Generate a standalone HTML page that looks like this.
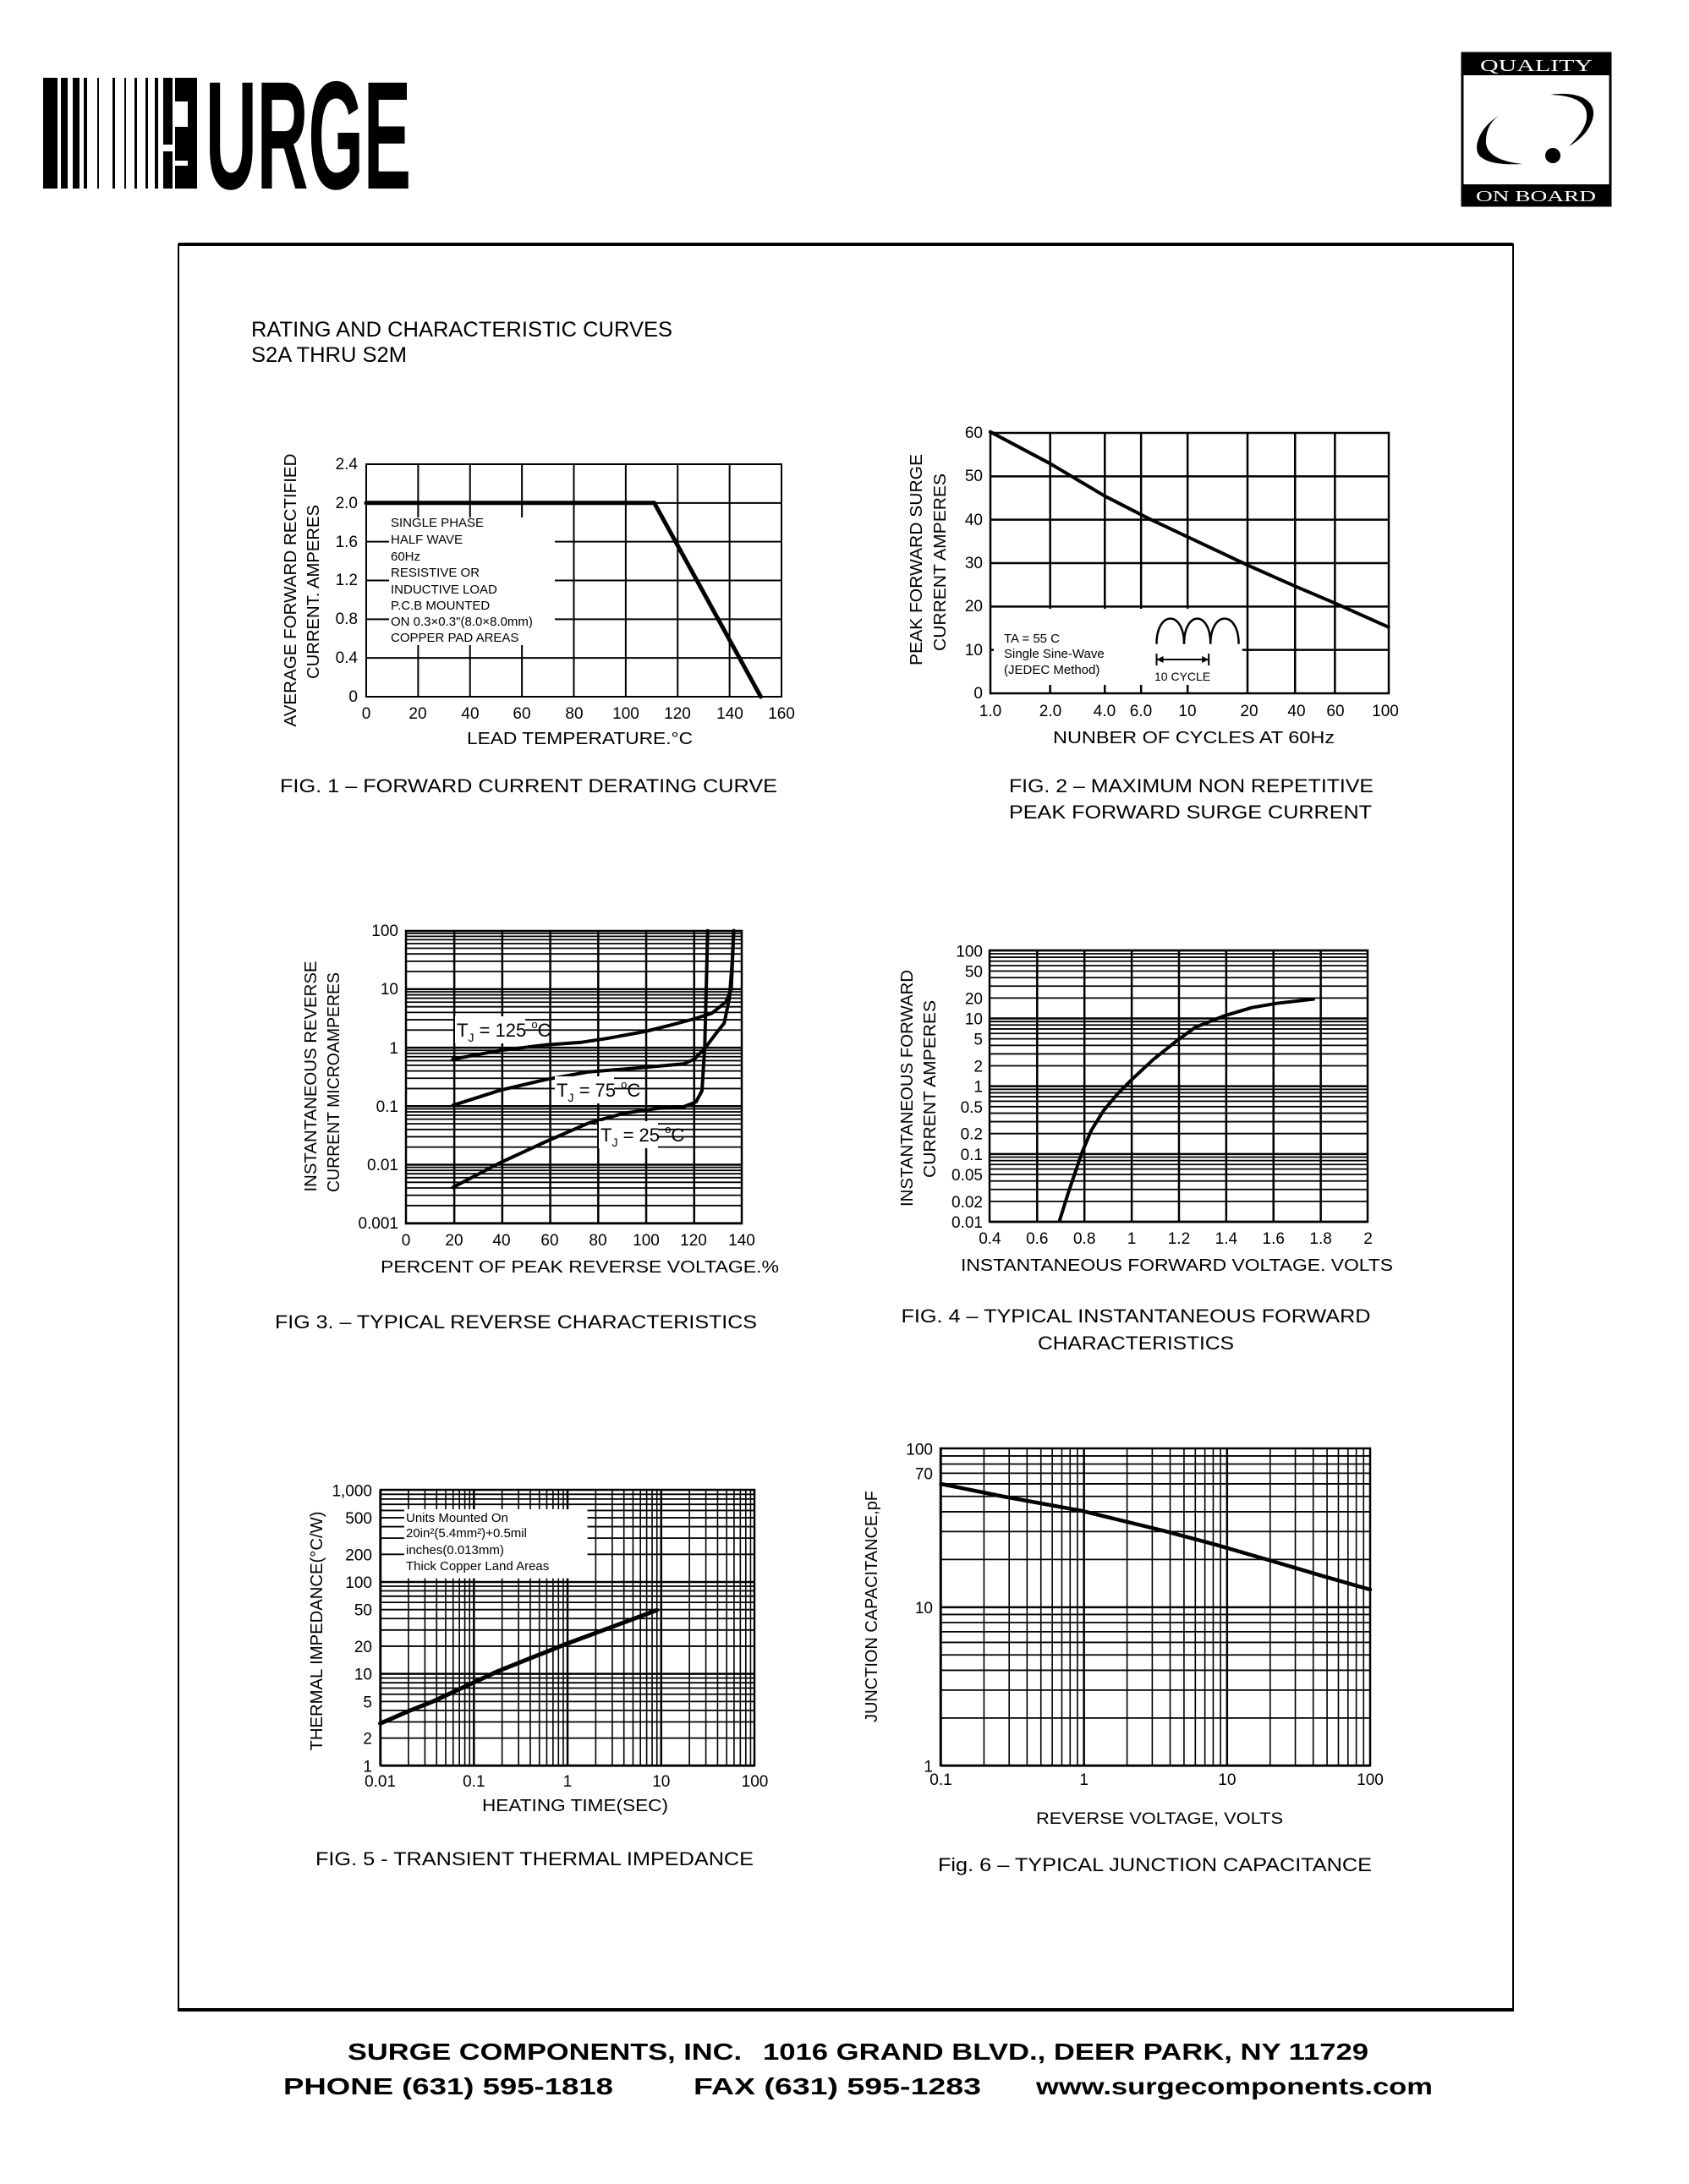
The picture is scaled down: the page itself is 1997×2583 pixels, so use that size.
<!DOCTYPE html>
<html><head><meta charset="utf-8"><style>
html,body{margin:0;padding:0;background:#fff}
svg{display:block}
text{font-family:"Liberation Sans",sans-serif;fill:#000}
</style></head><body>
<svg id="s" xmlns="http://www.w3.org/2000/svg" width="1997" height="2583" viewBox="0 0 1997 2583">
<rect width="1997" height="2583" fill="#fff"/>
<g fill="#000">
<rect x="51" y="92" width="17" height="131"/><rect x="72" y="92" width="8" height="131"/>
<rect x="86" y="92" width="8" height="131"/><rect x="99" y="92" width="4" height="131"/>
<rect x="115" y="92" width="2" height="131"/><rect x="133" y="92" width="3" height="131"/>
<rect x="147" y="92" width="2" height="131"/><rect x="159" y="92" width="3" height="131"/>
<rect x="172" y="92" width="3" height="131"/><rect x="183" y="92" width="4" height="131"/>
<rect x="193" y="92" width="11" height="79"/><rect x="193" y="179" width="11" height="44"/>
<rect x="207" y="92" width="26" height="28"/><rect x="222" y="120" width="11" height="103"/>
<rect x="207" y="150" width="15" height="40"/><rect x="207" y="196" width="15" height="27"/>
</g>
<text x="243" y="223" font-size="182" font-weight="bold" textLength="243" lengthAdjust="spacingAndGlyphs">URGE</text>
<rect x="1729" y="63" width="175" height="180" fill="#fff" stroke="#000" stroke-width="3"/>
<rect x="1729" y="63" width="175" height="26" fill="#000"/>
<rect x="1729" y="218" width="175" height="25" fill="#000"/>
<text x="1750" y="84" font-size="20" style="fill:#fff;font-family:'Liberation Serif',serif" textLength="133" lengthAdjust="spacingAndGlyphs">QUALITY</text>
<text x="1745" y="238" font-size="18" style="fill:#fff;font-family:'Liberation Serif',serif" textLength="142" lengthAdjust="spacingAndGlyphs">ON BOARD</text>
<path d="M1772,137 C1750,150 1740,175 1750,185 C1760,194 1780,195 1800,194 C1780,192 1755,185 1757,165 C1758,150 1765,142 1772,137Z" fill="#000"/>
<path d="M1833,112 C1860,108 1885,115 1884,135 C1883,150 1870,165 1855,173 C1868,160 1877,148 1876,135 C1875,120 1860,113 1833,112Z" fill="#000"/>
<circle cx="1836" cy="184" r="9" fill="#000"/>
<rect x="211" y="289" width="1578" height="2089" fill="none" stroke="#000" stroke-width="2"/>
<line x1="211" y1="289" x2="1789" y2="289" stroke="#000" stroke-width="4"/>
<line x1="211" y1="2377" x2="1789" y2="2377" stroke="#000" stroke-width="4"/>
<text x="297" y="398" font-size="25" textLength="498" lengthAdjust="spacingAndGlyphs">RATING AND CHARACTERISTIC CURVES</text>
<text x="297" y="428" font-size="25" textLength="184" lengthAdjust="spacingAndGlyphs">S2A THRU S2M</text>
<g id="grids"></g>
<g font-size="19">
<text x="423" y="555" text-anchor="end">2.4</text><text x="423" y="601" text-anchor="end">2.0</text>
<text x="423" y="647" text-anchor="end">1.6</text><text x="423" y="692" text-anchor="end">1.2</text>
<text x="423" y="738" text-anchor="end">0.8</text><text x="423" y="784" text-anchor="end">0.4</text>
<text x="423" y="830" text-anchor="end">0</text>
<text x="433" y="850" text-anchor="middle">0</text><text x="494" y="850" text-anchor="middle">20</text>
<text x="556" y="850" text-anchor="middle">40</text><text x="617" y="850" text-anchor="middle">60</text>
<text x="679" y="850" text-anchor="middle">80</text><text x="740" y="850" text-anchor="middle">100</text>
<text x="801" y="850" text-anchor="middle">120</text><text x="863" y="850" text-anchor="middle">140</text>
<text x="924" y="850" text-anchor="middle">160</text>
</g>
<text x="552" y="880" font-size="20" textLength="267" lengthAdjust="spacingAndGlyphs">LEAD TEMPERATURE.°C</text>
<text transform="translate(350,698) rotate(-90)" font-size="20" text-anchor="middle" textLength="323" lengthAdjust="spacingAndGlyphs">AVERAGE FORWARD RECTIFIED</text>
<text transform="translate(377,700) rotate(-90)" font-size="20" text-anchor="middle" textLength="206" lengthAdjust="spacingAndGlyphs">CURRENT. AMPERES</text>
<g font-size="15">
<text x="462" y="623">SINGLE PHASE</text><text x="462" y="643">HALF WAVE</text>
<text x="462" y="663">60Hz</text><text x="462" y="682">RESISTIVE OR</text>
<text x="462" y="702">INDUCTIVE LOAD</text><text x="462" y="721">P.C.B MOUNTED</text>
<text x="462" y="740">ON 0.3×0.3"(8.0×8.0mm)</text><text x="462" y="759">COPPER PAD AREAS</text>
</g>
<text x="331" y="937" font-size="22" textLength="588" lengthAdjust="spacingAndGlyphs">FIG. 1 – FORWARD CURRENT DERATING CURVE</text>
<g font-size="19">
<text x="1162" y="518" text-anchor="end">60</text><text x="1162" y="569" text-anchor="end">50</text>
<text x="1162" y="621" text-anchor="end">40</text><text x="1162" y="672" text-anchor="end">30</text>
<text x="1162" y="723" text-anchor="end">20</text><text x="1162" y="775" text-anchor="end">10</text>
<text x="1162" y="826" text-anchor="end">0</text>
<text x="1171" y="847" text-anchor="middle">1.0</text><text x="1242" y="847" text-anchor="middle">2.0</text>
<text x="1306" y="847" text-anchor="middle">4.0</text><text x="1349" y="847" text-anchor="middle">6.0</text>
<text x="1404" y="847" text-anchor="middle">10</text><text x="1477" y="847" text-anchor="middle">20</text>
<text x="1533" y="847" text-anchor="middle">40</text><text x="1579" y="847" text-anchor="middle">60</text>
<text x="1638" y="847" text-anchor="middle">100</text>
</g>
<text x="1245" y="879" font-size="20" textLength="333" lengthAdjust="spacingAndGlyphs">NUNBER OF CYCLES AT 60Hz</text>
<text transform="translate(1090,662) rotate(-90)" font-size="20" text-anchor="middle" textLength="250" lengthAdjust="spacingAndGlyphs">PEAK FORWARD SURGE</text>
<text transform="translate(1118,665) rotate(-90)" font-size="20" text-anchor="middle" textLength="210" lengthAdjust="spacingAndGlyphs">CURRENT  AMPERES</text>
<g font-size="15">
<text x="1187" y="760">TA = 55  C</text><text x="1187" y="778">Single  Sine-Wave</text>
<text x="1187" y="797">(JEDEC  Method)</text><text x="1365" y="805" font-size="14">10 CYCLE</text>
</g>
<text x="1193" y="937" font-size="22" textLength="431" lengthAdjust="spacingAndGlyphs">FIG. 2 – MAXIMUM NON REPETITIVE</text>
<text x="1193" y="968" font-size="22" textLength="429" lengthAdjust="spacingAndGlyphs">PEAK FORWARD SURGE CURRENT</text>
<g font-size="19">
<text x="471" y="1107" text-anchor="end">100</text><text x="471" y="1176" text-anchor="end">10</text>
<text x="471" y="1246" text-anchor="end">1</text><text x="471" y="1315" text-anchor="end">0.1</text>
<text x="471" y="1384" text-anchor="end">0.01</text><text x="471" y="1453" text-anchor="end">0.001</text>
<text x="480" y="1473" text-anchor="middle">0</text><text x="537" y="1473" text-anchor="middle">20</text>
<text x="593" y="1473" text-anchor="middle">40</text><text x="650" y="1473" text-anchor="middle">60</text>
<text x="707" y="1473" text-anchor="middle">80</text><text x="764" y="1473" text-anchor="middle">100</text>
<text x="820" y="1473" text-anchor="middle">120</text><text x="877" y="1473" text-anchor="middle">140</text>
</g>
<text x="450" y="1505" font-size="20" textLength="471" lengthAdjust="spacingAndGlyphs">PERCENT OF PEAK REVERSE VOLTAGE.%</text>
<text transform="translate(374,1273) rotate(-90)" font-size="20" text-anchor="middle" textLength="273" lengthAdjust="spacingAndGlyphs">INSTANTANEOUS REVERSE</text>
<text transform="translate(401,1280) rotate(-90)" font-size="20" text-anchor="middle" textLength="260" lengthAdjust="spacingAndGlyphs">CURRENT  MICROAMPERES</text>
<text x="325" y="1571" font-size="22" textLength="570" lengthAdjust="spacingAndGlyphs">FIG 3. – TYPICAL REVERSE CHARACTERISTICS</text>
<g font-size="19" id="f4t"></g>
<text x="1136" y="1503" font-size="20" textLength="511" lengthAdjust="spacingAndGlyphs">INSTANTANEOUS FORWARD VOLTAGE. VOLTS</text>
<text transform="translate(1079,1287) rotate(-90)" font-size="20" text-anchor="middle" textLength="280" lengthAdjust="spacingAndGlyphs">INSTANTANEOUS FORWARD</text>
<text transform="translate(1106,1288) rotate(-90)" font-size="20" text-anchor="middle" textLength="210" lengthAdjust="spacingAndGlyphs">CURRENT  AMPERES</text>
<text x="1343" y="1564" font-size="22" text-anchor="middle" textLength="555" lengthAdjust="spacingAndGlyphs">FIG. 4 – TYPICAL INSTANTANEOUS FORWARD</text>
<text x="1343" y="1596" font-size="22" text-anchor="middle" textLength="232" lengthAdjust="spacingAndGlyphs">CHARACTERISTICS</text>
<g font-size="19" id="f5t"></g>
<text x="680" y="2142" font-size="20" text-anchor="middle" textLength="220" lengthAdjust="spacingAndGlyphs">HEATING TIME(SEC)</text>
<text transform="translate(381,1929) rotate(-90)" font-size="20" text-anchor="middle" textLength="283" lengthAdjust="spacingAndGlyphs">THERMAL IMPEDANCE(°C/W)</text>
<g font-size="15">
<text x="480" y="1800">Units  Mounted  On</text><text x="480" y="1818">20in²(5.4mm²)+0.5mil</text>
<text x="480" y="1838">inches(0.013mm)</text><text x="480" y="1857">Thick  Copper  Land  Areas</text>
</g>
<text x="373" y="2206" font-size="22" textLength="518" lengthAdjust="spacingAndGlyphs">FIG. 5 - TRANSIENT THERMAL IMPEDANCE</text>
<g font-size="19" id="f6t"></g>
<text x="1371" y="2157" font-size="19" text-anchor="middle" textLength="292" lengthAdjust="spacingAndGlyphs">REVERSE VOLTAGE, VOLTS</text>
<text transform="translate(1037,1900) rotate(-90)" font-size="20" text-anchor="middle" textLength="274" lengthAdjust="spacingAndGlyphs">JUNCTION CAPACITANCE,pF</text>
<text x="1109" y="2213" font-size="22" textLength="513" lengthAdjust="spacingAndGlyphs">Fig. 6 – TYPICAL JUNCTION CAPACITANCE</text>
<g font-weight="bold" font-size="28">
<text x="411" y="2436" textLength="466" lengthAdjust="spacingAndGlyphs">SURGE COMPONENTS, INC.</text>
<text x="902" y="2436" textLength="716" lengthAdjust="spacingAndGlyphs">1016 GRAND BLVD., DEER PARK, NY  11729</text>
<text x="335" y="2477" textLength="390" lengthAdjust="spacingAndGlyphs">PHONE (631) 595-1818</text>
<text x="820" y="2477" textLength="340" lengthAdjust="spacingAndGlyphs">FAX  (631) 595-1283</text>
<text x="1225" y="2477" textLength="469" lengthAdjust="spacingAndGlyphs">www.surgecomponents.com</text>
</g>
<g id="over"></g>
</svg>
<script>
var NS="http://www.w3.org/2000/svg",G=document.getElementById("grids"),O=document.getElementById("over");
function el(p,t,a){var e=document.createElementNS(NS,t);for(var k in a)e.setAttribute(k,a[k]);p.appendChild(e);return e;}
function L(x1,y1,x2,y2,w){el(G,"line",{x1:x1,y1:y1,x2:x2,y2:y2,stroke:"#000","stroke-width":w||1.5});}
function R(x,y,w,h){el(G,"rect",{x:x,y:y,width:w,height:h,fill:"#fff"});}
function P(pts,w,par){el(par||G,"polyline",{points:pts.map(function(p){return p[0].toFixed(1)+","+p[1].toFixed(1)}).join(" "),fill:"none",stroke:"#000","stroke-width":w||4,"stroke-linejoin":"round","stroke-linecap":"round"});}
function Z(x0,y0,fx,fy){return function(a){return a.map(function(p){return [x0+p[0]/fx,y0+p[1]/fy]})}}
function T(par,x,y,s,anc){var e=el(par,"text",{x:x,y:y,"text-anchor":anc||"end"});e.textContent=s;}
function lg(v){return Math.log(v)/Math.LN10;}
(function(){var X=function(t){return 433+t/160*491},Y=function(v){return 824-v/2.4*275};
for(var t=20;t<160;t+=20)L(X(t),549,X(t),824,2);
for(var v=0.4;v<2.39;v+=0.4)L(433,Y(v),924,Y(v),2);
R(460,612,196,151);
el(G,"rect",{x:433,y:549,width:491,height:275,fill:"none",stroke:"#000","stroke-width":2});
P([[X(0),Y(2)],[X(111),Y(2)],[X(152),Y(0)]],5);})();
(function(){var z=Z(1050,480,2.4,3);var xs=[460,615,718,850,1020,1155,1268];
xs.forEach(function(x){var p=z([[x,95],[x,1020]]);L(p[0][0],p[0][1],p[1][0],p[1][1],2.5);});
for(var i=1;i<6;i++){var y=820-i*51.33;L(1171,y,1642,y,2.5);}
var r=z([[300,720],[1005,990]]);R(r[0][0],r[0][1],r[1][0]-r[0][0],r[1][1]-r[0][1]);
el(G,"rect",{x:1171,y:512,width:471,height:308,fill:"none",stroke:"#000","stroke-width":2.5});
P(z([[290,92],[460,205],[615,320],[740,400],[850,465],[1020,565],[1155,640],[1268,700],[1420,785]]),4);
function arch(a,b){var A=z([[a,845],[b,845]]);el(G,"path",{d:"M"+A[0][0]+","+A[0][1]+" C"+A[0][0]+","+(A[0][1]-40)+" "+A[1][0]+","+(A[0][1]-40)+" "+A[1][0]+","+A[1][1],fill:"none",stroke:"#000","stroke-width":2.5});}
arch(762,840);arch(840,915);arch(915,995);
var a=z([[762,900],[910,900]]);L(a[0][0],a[0][1],a[1][0],a[1][1],2);
L(a[0][0],a[0][1]-7,a[0][0],a[0][1]+7,2);L(a[1][0],a[1][1]-7,a[1][0],a[1][1]+7,2);
el(G,"path",{d:"M"+a[0][0]+","+a[0][1]+" l8,-4 l0,8z M"+a[1][0]+","+a[1][1]+" l-8,-4 l0,8z",fill:"#000"});})();
(function(){var z=Z(300,1070,2.4,3);var Y=function(v){return 1130-(lg(v)+3)*207.6},X=function(t){return 433+t*953/140};
for(var d=-3;d<=1;d++)for(var m=1;m<=9;m++){var y=Y(m*Math.pow(10,d));var p=z([[433,y]]);L(480,p[0][1],877,p[0][1],m==1?2.5:1.8);}
for(var t=20;t<=120;t+=20){L(300+X(t)/2.4,1101,300+X(t)/2.4,1447,2.5);}
el(G,"rect",{x:480,y:1101,width:397,height:346,fill:"none",stroke:"#000","stroke-width":2.5});
P(z([[565,548],[700,517],[830,497],[930,488],[1000,475],[1110,450],[1190,425],[1250,405],[1300,385],[1340,345],[1355,300],[1362,92]]),4);
P(z([[565,712],[700,658],[830,620],[950,593],[1100,578],[1220,565],[1250,548],[1280,510],[1310,460],[1335,420],[1350,330],[1358,200],[1362,92]]),4);
P(z([[565,1003],[700,915],[830,840],[950,775],[1050,740],[1150,722],[1220,717],[1255,700],[1272,660],[1280,500],[1284,300],[1288,92]]),4);
function lab(x,y,n){R(x-2,y-24,n.length*13+44,32);var e=el(O,"text",{x:x,y:y,"font-size":"22"});e.innerHTML='T<tspan font-size="14" dy="6">J</tspan><tspan dy="-6"> = '+n+' </tspan><tspan font-size="13" dy="-10">o</tspan><tspan dy="10">C</tspan>';}
lab(540,1226,"125");lab(658,1297,"75");lab(710,1350,"25");})();
(function(){var z=Z(1030,1090,2.4,3);var X=function(v){return 337+(v-0.4)/1.6*1073},Y=function(i){return 1065-(lg(i)+2)*240.5};
var t4=document.getElementById("f4t");
for(var d=-2;d<=1;d++)for(var m=1;m<=9;m++){var y=1090+Y(m*Math.pow(10,d))/3;L(1170,y,1617,y,m==1?2.5:1.8);}
L(1170,1090+Y(100)/3,1617,1090+Y(100)/3,2);
for(var v=0.6;v<1.95;v+=0.2){var x=1030+X(v)/2.4;L(x,1124,x,1445,2.5);}
el(G,"rect",{x:1170,y:1124,width:447,height:321,fill:"none",stroke:"#000","stroke-width":2.5});
P(z([[535,1060],[560,960],[598,820],[625,740],[660,670],[700,610],[740,560],[800,490],[870,420],[920,375],[1000,335],[1080,305],[1150,290],[1255,275]]),4);
[100,50,20,10,5,2,1,0.5,0.2,0.1,0.05,0.02,0.01].forEach(function(v){T(t4,1162,1090+Y(v)/3+7,String(v));});
["0.4","0.6","0.8","1","1.2","1.4","1.6","1.8","2"].forEach(function(s){T(t4,1030+X(+s)/2.4,1471,s,"middle");});})();
(function(){var z=Z(330,1720,2.4,3);var X=function(t){return 287+(lg(t)+2)*265.75},Y=function(v){return 1105-lg(v)*326};
var t5=document.getElementById("f5t");
for(var d=-2;d<=1;d++)for(var m=1;m<=9;m++){var x=330+X(m*Math.pow(10,d))/2.4;L(x,1762,x,2088,m==1?2.5:1.6);}
for(var d=0;d<=2;d++)for(var m=1;m<=9;m++){var y=1720+Y(m*Math.pow(10,d))/3;L(450,y,892,y,m==1?2.5:1.8);}
var r=z([[355,195],[875,440]]);R(r[0][0],r[0][1],r[1][0]-r[0][0],r[1][1]-r[0][1]);
el(G,"rect",{x:450,y:1762,width:442,height:326,fill:"none",stroke:"#000","stroke-width":2.5});
P(z([[287,955],[370,910],[440,875],[500,840],[620,770],[810,675],[950,610],[1072,553]]),5);
[[1000,"1,000"],[500,"500"],[200,"200"],[100,"100"],[50,"50"],[20,"20"],[10,"10"],[5,"5"],[2,"2"],[1,"1"]].forEach(function(a){T(t5,440,1720+Y(a[0])/3+7,a[1]);});
["0.01","0.1","1","10","100"].forEach(function(s){T(t5,330+X(+s)/2.4,2113,s,"middle");});})();
(function(){var z=Z(1020,1680,2.4,3);var X=function(v){return 222+(lg(v)+1)*406},Y=function(c){return 1225-lg(c)*562.5};
var t6=document.getElementById("f6t");
for(var d=-1;d<=1;d++)for(var m=1;m<=9;m++){var x=1020+X(m*Math.pow(10,d))/2.4;L(x,1713,x,2088,m==1?2.5:1.6);}
for(var d=0;d<=1;d++)for(var m=1;m<=9;m++){var y=1680+Y(m*Math.pow(10,d))/3;L(1112,y,1620,y,m==1?2.5:1.8);}
el(G,"rect",{x:1112,y:1713,width:508,height:375,fill:"none",stroke:"#000","stroke-width":2.5});
P(z([[222,225],[400,270],[620,320],[850,390],[1000,440],[1160,498],[1300,550],[1440,600]]),4.5);
[[100,"100"],[70,"70"],[10,"10"],[1,"1"]].forEach(function(a){T(t6,1103,1680+Y(a[0])/3+7,a[1]);});
["0.1","1","10","100"].forEach(function(s){T(t6,1020+X(+s)/2.4,2111,s,"middle");});})();
</script>
</body></html>
